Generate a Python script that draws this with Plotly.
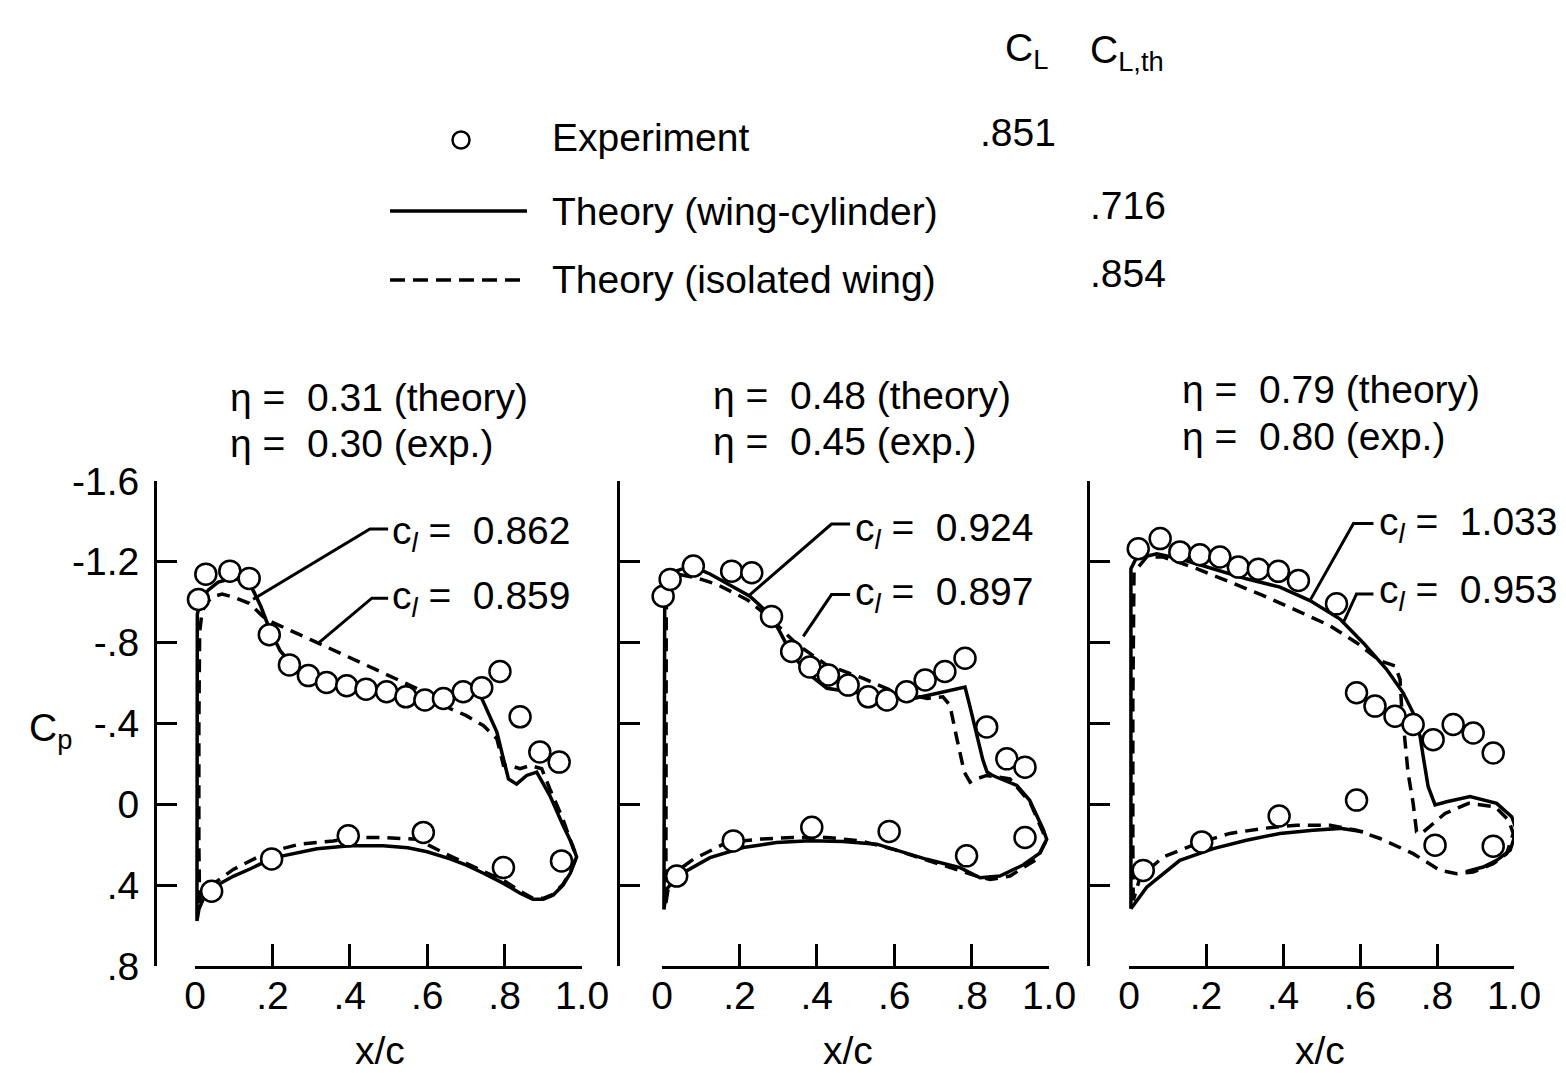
import plotly.graph_objects as go

# ---------------- data (x/c, Cp) ----------------
# Panel 1: eta = 0.31 (theory) / 0.30 (exp.)
p1_exp_up_x = [0.009, 0.028, 0.09, 0.14, 0.192, 0.244, 0.293, 0.34, 0.392, 0.442, 0.495, 0.545, 0.594, 0.642, 0.693, 0.741, 0.788, 0.84, 0.891, 0.941]
p1_exp_up_y = [-1.014, -1.139, -1.154, -1.118, -0.839, -0.69, -0.637, -0.603, -0.587, -0.57, -0.557, -0.532, -0.516, -0.524, -0.557, -0.577, -0.657, -0.433, -0.259, -0.209]
p1_exp_lo_x = [0.043, 0.198, 0.396, 0.59, 0.797, 0.947]
p1_exp_lo_y = [0.43, 0.27, 0.156, 0.139, 0.313, 0.28]
p1_solid_x = [0.005, 0.005, 0.005, 0.006, 0.013, 0.034, 0.06, 0.1, 0.13, 0.15, 0.17, 0.19, 0.22, 0.26, 0.3, 0.35, 0.4, 0.45, 0.5, 0.55, 0.6, 0.65, 0.7, 0.735, 0.745, 0.76, 0.78, 0.797, 0.81, 0.831, 0.857, 0.883, 0.917, 0.95, 0.975, 0.986,
              0.97, 0.951, 0.925, 0.9, 0.873, 0.84, 0.796, 0.744, 0.7, 0.659, 0.6, 0.55, 0.486, 0.4, 0.315, 0.227, 0.18, 0.142, 0.1, 0.057, 0.035, 0.021, 0.01, 0.005]
p1_solid_y = [0.577, 0.3, -0.3, -0.94, -1.0, -1.06, -1.1, -1.12, -1.1, -1.06, -0.98, -0.88, -0.76, -0.67, -0.63, -0.6, -0.585, -0.565, -0.55, -0.53, -0.52, -0.525, -0.54, -0.55, -0.507, -0.44, -0.358, -0.225, -0.126, -0.1, -0.143, -0.159, -0.043, 0.1, 0.2, 0.26,
              0.34, 0.4, 0.45, 0.47, 0.47, 0.44, 0.39, 0.34, 0.3, 0.27, 0.235, 0.215, 0.205, 0.205, 0.22, 0.255, 0.285, 0.32, 0.355, 0.4, 0.43, 0.47, 0.52, 0.577]
p1_dash_x = [0.012, 0.01, 0.01, 0.012, 0.018, 0.03, 0.05, 0.07, 0.1, 0.14, 0.17, 0.185, 0.3, 0.4, 0.5, 0.538, 0.6, 0.64, 0.659, 0.7, 0.745, 0.78, 0.797, 0.814, 0.84, 0.866, 0.896, 0.917, 0.95, 0.978, 0.987,
             0.97, 0.951, 0.925, 0.9, 0.873, 0.84, 0.8, 0.771, 0.736, 0.659, 0.573, 0.487, 0.418, 0.357, 0.271, 0.185, 0.099, 0.039, 0.018, 0.012]
p1_dash_y = [0.49, 0.2, -0.4, -0.85, -0.95, -1.0, -1.03, -1.04, -1.025, -0.995, -0.94, -0.914, -0.814, -0.727, -0.64, -0.607, -0.55, -0.5, -0.474, -0.44, -0.39, -0.325, -0.193, -0.192, -0.176, -0.192, -0.176, -0.076, 0.07, 0.222, 0.254,
             0.335, 0.395, 0.445, 0.465, 0.465, 0.43, 0.38, 0.355, 0.322, 0.255, 0.173, 0.164, 0.164, 0.181, 0.197, 0.239, 0.322, 0.405, 0.47, 0.49]

# Panel 2: eta = 0.48 (theory) / 0.45 (exp.)
p2_exp_up_x = [0.003, 0.021, 0.081, 0.18, 0.232, 0.283, 0.335, 0.382, 0.43, 0.481, 0.533, 0.581, 0.632, 0.68, 0.731, 0.783, 0.839, 0.891, 0.938]
p2_exp_up_y = [-1.03, -1.113, -1.179, -1.154, -1.146, -0.93, -0.756, -0.68, -0.64, -0.59, -0.532, -0.516, -0.557, -0.615, -0.657, -0.723, -0.383, -0.225, -0.184]
p2_exp_lo_x = [0.038, 0.184, 0.387, 0.587, 0.787, 0.938]
p2_exp_lo_y = [0.355, 0.181, 0.114, 0.134, 0.255, 0.164]
p2_solid_x = [0.005, 0.005, 0.005, 0.005, 0.007, 0.014, 0.03, 0.06, 0.081, 0.124, 0.16, 0.2, 0.227, 0.27, 0.3, 0.322, 0.35, 0.382, 0.426, 0.486, 0.555, 0.641, 0.7, 0.726, 0.76, 0.783, 0.795, 0.81, 0.829, 0.84, 0.852, 0.865, 0.917, 0.95, 0.985, 0.994,
              0.977, 0.933, 0.873, 0.822, 0.77, 0.684, 0.597, 0.555, 0.468, 0.382, 0.296, 0.21, 0.124, 0.055, 0.025, 0.012, 0.005]
p2_solid_y = [0.52, 0.3, -0.3, -0.9, -1.0, -1.1, -1.15, -1.17, -1.175, -1.14, -1.1, -1.06, -1.03, -0.955, -0.87, -0.79, -0.71, -0.64, -0.574, -0.557, -0.54, -0.52, -0.545, -0.557, -0.57, -0.58, -0.49, -0.37, -0.22, -0.16, -0.145, -0.134, -0.094, -0.02, 0.124, 0.173,
              0.24, 0.3, 0.355, 0.363, 0.313, 0.272, 0.222, 0.197, 0.184, 0.18, 0.189, 0.214, 0.264, 0.338, 0.39, 0.42, 0.52]
p2_dash_x = [0.01, 0.01, 0.01, 0.011, 0.013, 0.022, 0.038, 0.09, 0.14, 0.22, 0.28, 0.35, 0.425, 0.52, 0.6, 0.686, 0.726, 0.744, 0.762, 0.779, 0.781, 0.796, 0.813, 0.839, 0.899, 0.951, 0.985, 0.99,
             0.968, 0.899, 0.848, 0.813, 0.726, 0.597, 0.512, 0.426, 0.339, 0.253, 0.167, 0.081, 0.021, 0.01]
p2_dash_y = [0.49, 0.2, -0.5, -0.95, -1.07, -1.12, -1.14, -1.12, -1.09, -1.013, -0.92, -0.79, -0.69, -0.623, -0.557, -0.524, -0.532, -0.49, -0.325, -0.193, -0.16, -0.11, -0.126, -0.143, -0.126, -0.01, 0.14, 0.19,
             0.272, 0.355, 0.372, 0.355, 0.3, 0.222, 0.18, 0.164, 0.164, 0.172, 0.189, 0.272, 0.355, 0.49]

# Panel 3: eta = 0.79 (theory) / 0.80 (exp.)
p3_exp_up_x = [-0.006, 0.024, 0.081, 0.132, 0.184, 0.236, 0.284, 0.336, 0.388, 0.44, 0.539, 0.591, 0.639, 0.691, 0.738, 0.79, 0.842, 0.894, 0.946]
p3_exp_up_y = [-1.224, -1.265, -1.315, -1.249, -1.235, -1.224, -1.174, -1.163, -1.153, -1.108, -0.992, -0.552, -0.486, -0.436, -0.395, -0.32, -0.395, -0.353, -0.254]
p3_exp_lo_x = [0.037, 0.189, 0.39, 0.591, 0.795, 0.946]
p3_exp_lo_y = [0.327, 0.186, 0.058, -0.021, 0.202, 0.207]
p3_solid_x = [0.005, 0.005, 0.005, 0.005, 0.018, 0.072, 0.132, 0.219, 0.305, 0.392, 0.47, 0.548, 0.608, 0.669, 0.712, 0.738, 0.756, 0.763, 0.777, 0.795, 0.825, 0.886, 0.955, 0.994, 1.007,
              0.99, 0.955, 0.92, 0.875, None, 0.608, 0.548, 0.478, 0.392, 0.305, 0.219, 0.132, 0.046, 0.005]
p3_solid_y = [0.517, 0.3, -0.5, -1.166, -1.215, -1.24, -1.215, -1.166, -1.116, -1.075, -1.008, -0.917, -0.8, -0.668, -0.552, -0.453, -0.337, -0.25, -0.088, 0.003, -0.013, -0.038, -0.005, 0.061, 0.128,
              0.227, 0.277, 0.31, 0.333, None, 0.136, 0.119, 0.128, 0.144, 0.178, 0.219, 0.277, 0.41, 0.517]
p3_dash_x = [0.011, 0.01, 0.01, 0.011, 0.013, 0.046, 0.089, 0.176, 0.262, 0.349, 0.436, 0.522, 0.591, 0.652, 0.691, 0.704, 0.708, 0.717, 0.725, 0.738, 0.747, 0.76, 0.821, 0.882, 0.951, 0.986, 0.998,
             0.981, 0.946, 0.894, 0.851, 0.808, 0.738, 0.652, 0.591, 0.522, 0.436, 0.349, 0.262, 0.176, 0.089, 0.029, 0.011]
p3_dash_y = [0.476, 0.2, -0.5, -1.0, -1.149, -1.224, -1.224, -1.166, -1.1, -1.033, -0.959, -0.884, -0.8, -0.71, -0.685, -0.618, -0.486, -0.32, -0.154, -0.005, 0.136, 0.144, 0.045, -0.005, 0.012, 0.078, 0.144,
             0.244, 0.294, 0.335, 0.343, 0.327, 0.244, 0.169, 0.128, 0.103, 0.103, 0.119, 0.144, 0.194, 0.26, 0.36, 0.476]

NB = "\u00a0"
panel_titles = [["η = " + NB + "0.31 (theory)", "η = " + NB + "0.30 (exp.)"],
                ["η = " + NB + "0.48 (theory)", "η = " + NB + "0.45 (exp.)"],
                ["η = " + NB + "0.79 (theory)", "η = " + NB + "0.80 (exp.)"]]
panel_cl = [["0.862", "0.859"], ["0.924", "0.897"], ["1.033", "0.953"]]

x_tickvals = [0, 0.2, 0.4, 0.6, 0.8, 1.0]
x_ticktext = ["0", ".2", ".4", ".6", ".8", "1.0"]
y_tickvals = [-1.6, -1.2, -0.8, -0.4, 0, 0.4, 0.8]
y_ticktext = ["-1.6", "-1.2", "-.8", "-.4", "0", ".4", ".8"]

legend_labels = ["Experiment", "Theory (wing-cylinder)", "Theory (isolated wing)"]
legend_CL = [".851", "", ""]
legend_CLth = ["", ".716", ".854"]

# ---------------- layout helpers ----------------
W, H = 1566, 1073
FONT = "Liberation Sans, Arial, sans-serif"
FS = 39

panels = [
    dict(ex=p1_exp_up_x, ey=p1_exp_up_y, lx=p1_exp_lo_x, ly=p1_exp_lo_y, sx=p1_solid_x, sy=p1_solid_y, dx=p1_dash_x, dy=p1_dash_y),
    dict(ex=p2_exp_up_x, ey=p2_exp_up_y, lx=p2_exp_lo_x, ly=p2_exp_lo_y, sx=p2_solid_x, sy=p2_solid_y, dx=p2_dash_x, dy=p2_dash_y),
    dict(ex=p3_exp_up_x, ey=p3_exp_up_y, lx=p3_exp_lo_x, ly=p3_exp_lo_y, sx=p3_solid_x, sy=p3_solid_y, dx=p3_dash_x, dy=p3_dash_y),
]
# pixel geometry of each panel: y-spine x, x-axis start/end
geom = [dict(spine=155, x0=195, x1=582), dict(spine=618, x0=662, x1=1049), dict(spine=1088, x0=1129, x1=1514)]
Y_TOP, Y_BOT = 481, 966

# callout leader lines (data coords of each panel)
callouts = [
    [([0.499, 0.452, 0.150], [-1.363, -1.363, -1.015]), ([0.499, 0.457, 0.318], [-1.02, -1.02, -0.796])],
    [([0.486, 0.438, 0.223], [-1.387, -1.387, -1.03]), ([0.486, 0.438, 0.365], [-1.038, -1.038, -0.831])],
    [([0.635, 0.583, 0.470], [-1.39, -1.39, -1.008]), ([0.635, 0.591, 0.557], [-1.041, -1.041, -0.90])],
]
callout_text_pos = [[(390, 533), (390, 598)], [(853, 530), (853, 594)], [(1377, 524), (1377, 592)]]
title_pos = [[(228, 397), (228, 443)], [(711, 395), (711, 441)], [(1180, 389), (1180, 436)]]
xlabel_x = [380, 848, 1320]

fig = go.Figure()
annotations = []
layout = dict(template="none", width=W, height=H, margin=dict(l=0, r=0, t=0, b=0, pad=0, autoexpand=False),
              paper_bgcolor="white", plot_bgcolor="rgba(0,0,0,0)", showlegend=False,
              font=dict(family=FONT, size=FS, color="black"))

for i, (p, g) in enumerate(zip(panels, geom)):
    n = "" if i == 0 else str(i + 1)
    xa, ya = "x" + n, "y" + n
    layout["xaxis" + n] = dict(domain=[g["x0"] / W, g["x1"] / W], range=[0, 1], anchor=ya,
                               showline=True, linewidth=3, linecolor="black", mirror=False,
                               ticks="inside", ticklen=22, tickwidth=3, tickcolor="black",
                               tickmode="array", tickvals=x_tickvals, ticktext=x_ticktext,
                               showgrid=False, zeroline=False, automargin=False,
                               tickfont=dict(family=FONT, size=FS, color="black"), ticklabelstandoff=-7,
                               fixedrange=True)
    layout["yaxis" + n] = dict(domain=[1 - Y_BOT / H, 1 - Y_TOP / H], range=[0.8, -1.6], anchor="free",
                               position=g["spine"] / W, showline=True, linewidth=3, linecolor="black",
                               ticks="inside", ticklen=20, tickwidth=3, tickcolor="black",
                               tickmode="array", tickvals=y_tickvals, ticktext=y_ticktext,
                               showticklabels=(i == 0), automargin=False,
                               showgrid=False, zeroline=False, tickfont=dict(family=FONT, size=FS, color="black"),
                               ticklabelstandoff=7, fixedrange=True)
    # theory curves
    fig.add_trace(go.Scatter(x=p["dx"], y=p["dy"], xaxis=xa, yaxis=ya, mode="lines",
                             line=dict(color="black", width=3.5, dash="13px,8px"), cliponaxis=False,
                             connectgaps=False))
    fig.add_trace(go.Scatter(x=p["sx"], y=p["sy"], xaxis=xa, yaxis=ya, mode="lines",
                             line=dict(color="black", width=3.5), cliponaxis=False, connectgaps=False))
    # callout leaders
    for (cx, cy) in callouts[i]:
        fig.add_trace(go.Scatter(x=cx, y=cy, xaxis=xa, yaxis=ya, mode="lines",
                                 line=dict(color="black", width=3), cliponaxis=False))
    # experiment
    fig.add_trace(go.Scatter(x=p["ex"] + p["lx"], y=p["ey"] + p["ly"], xaxis=xa, yaxis=ya, mode="markers",
                             marker=dict(symbol="circle", size=21, color="white",
                                         line=dict(color="black", width=2.5)), cliponaxis=False))
    # texts
    for (tx, ty), t in zip(title_pos[i], panel_titles[i]):
        annotations.append(dict(x=tx, y=ty, xref="x4", yref="y4", text=t, showarrow=False,
                                xanchor="left", yanchor="middle", font=dict(family=FONT, size=FS)))
    for (tx, ty), v in zip(callout_text_pos[i], panel_cl[i]):
        annotations.append(dict(x=tx, y=ty, xref="x4", yref="y4", text="c<sub><i>l</i></sub> = " + NB + v,
                                showarrow=False, xanchor="left", yanchor="middle", font=dict(family=FONT, size=FS)))
    annotations.append(dict(x=xlabel_x[i], y=1050, xref="x4", yref="y4", text="x/c", showarrow=False,
                            xanchor="center", yanchor="middle", font=dict(family=FONT, size=FS)))

# overlay pixel axis for legend & free text
layout["xaxis4"] = dict(domain=[0, 1], range=[0, W], visible=False, anchor="y4", fixedrange=True, automargin=False)
layout["yaxis4"] = dict(domain=[0, 1], range=[H, 0], visible=False, anchor="x4", fixedrange=True, automargin=False)

# legend samples
fig.add_trace(go.Scatter(x=[461], y=[140], xaxis="x4", yaxis="y4", mode="markers",
                         marker=dict(symbol="circle", size=17, color="white", line=dict(color="black", width=2.5)),
                         cliponaxis=False))
fig.add_trace(go.Scatter(x=[390, 527], y=[211, 211], xaxis="x4", yaxis="y4", mode="lines",
                         line=dict(color="black", width=3.5), cliponaxis=False))
fig.add_trace(go.Scatter(x=[390, 527], y=[280, 280], xaxis="x4", yaxis="y4", mode="lines",
                         line=dict(color="black", width=3.5, dash="15px,8px"), cliponaxis=False))

legend_y = [137, 211, 279]
for ly, lab, c1, c2 in zip(legend_y, legend_labels, legend_CL, legend_CLth):
    annotations.append(dict(x=550, y=ly, xref="x4", yref="y4", text=lab, showarrow=False,
                            xanchor="left", yanchor="middle", font=dict(family=FONT, size=FS)))
    if c1:
        annotations.append(dict(x=978, y=ly - 5, xref="x4", yref="y4", text=c1, showarrow=False,
                                xanchor="left", yanchor="middle", font=dict(family=FONT, size=FS)))
    if c2:
        annotations.append(dict(x=1088, y=ly - 6, xref="x4", yref="y4", text=c2, showarrow=False,
                                xanchor="left", yanchor="middle", font=dict(family=FONT, size=FS)))
annotations.append(dict(x=1003, y=50, xref="x4", yref="y4", text="C<sub>L</sub>", showarrow=False,
                        xanchor="left", yanchor="middle", font=dict(family=FONT, size=FS)))
annotations.append(dict(x=1088, y=52, xref="x4", yref="y4", text="C<sub>L,th</sub>", showarrow=False,
                        xanchor="left", yanchor="middle", font=dict(family=FONT, size=FS)))
annotations.append(dict(x=27, y=730, xref="x4", yref="y4", text="C<sub>p</sub>", showarrow=False,
                        xanchor="left", yanchor="middle", font=dict(family=FONT, size=FS)))

layout["annotations"] = annotations
fig.update_layout(**layout)
fig.write_html("out.html")
